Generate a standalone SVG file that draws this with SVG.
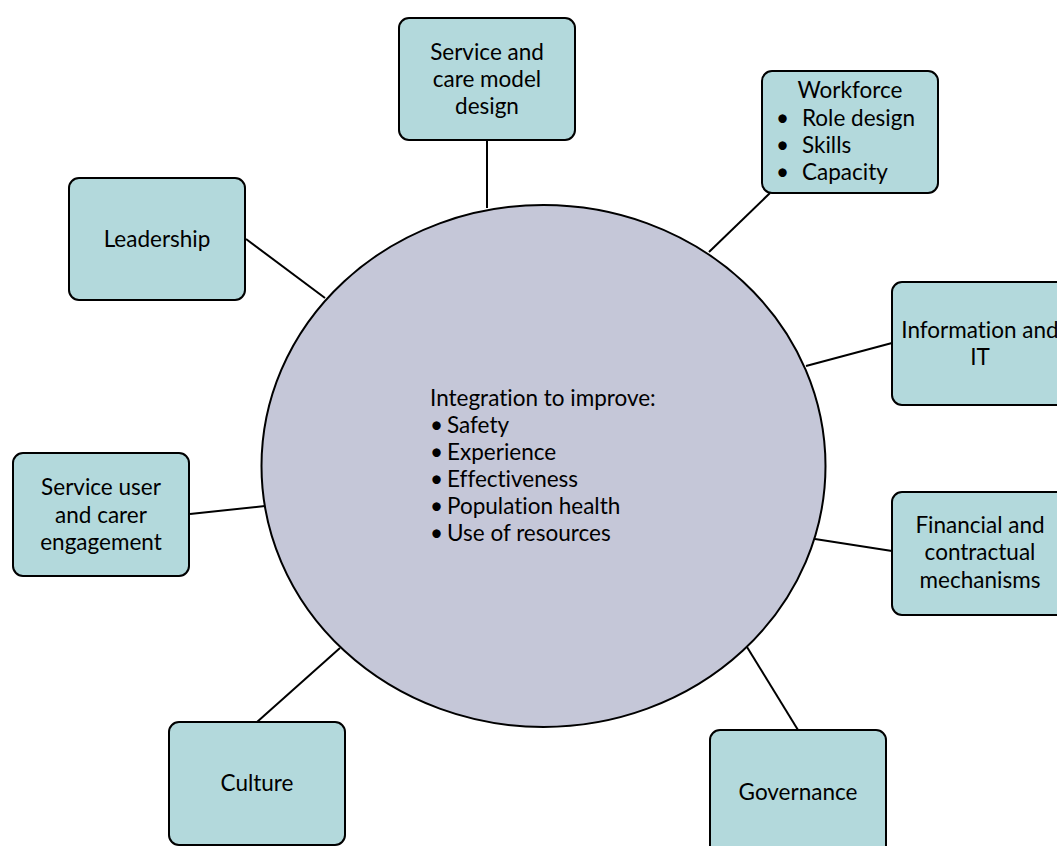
<svg xmlns="http://www.w3.org/2000/svg" width="1057" height="846" viewBox="0 0 1057 846">
<style>
.box{fill:#b3d9dc;stroke:#000;stroke-width:2}
.hub{fill:#c5c7d8;stroke:#000;stroke-width:2}
.t{font-family:Lato,"Liberation Sans",sans-serif;font-size:22.5px;fill:#000;font-variant-ligatures:none}
.c{text-anchor:middle}
.conn line{stroke:#000;stroke-width:2}
</style>
<rect width="1057" height="846" fill="#fff"/>
<g id="connectors" class="conn">
<line x1="487" y1="140" x2="487" y2="208"/>
<line x1="770" y1="193" x2="709" y2="252"/>
<line x1="246" y1="239" x2="325" y2="298"/>
<line x1="892" y1="343" x2="806" y2="366"/>
<line x1="892" y1="551" x2="815" y2="539"/>
<line x1="190" y1="514" x2="265" y2="506"/>
<line x1="257" y1="722" x2="340" y2="648"/>
<line x1="798" y1="730" x2="747" y2="647"/>
</g>
<g id="hub">
<ellipse class="hub" cx="543.5" cy="466" rx="282" ry="261"/>
<text class="t" x="430" y="406">Integration to improve:</text>
<text class="t" x="430" y="433">•</text><text class="t" x="447" y="433">Safety</text>
<text class="t" x="430" y="460">•</text><text class="t" x="447" y="460">Experience</text>
<text class="t" x="430" y="487">•</text><text class="t" x="447" y="487">Effectiveness</text>
<text class="t" x="430" y="514">•</text><text class="t" x="447" y="514">Population health</text>
<text class="t" x="430" y="541">•</text><text class="t" x="447" y="541">Use of resources</text>
</g>
<g id="service-design">
<rect class="box" x="399" y="18" width="176" height="122" rx="10"/>
<text class="t c" x="487" y="60">Service and</text>
<text class="t c" x="487" y="87">care model</text>
<text class="t c" x="487" y="114">design</text>
</g>
<g id="workforce">
<rect class="box" x="762" y="71" width="176" height="122" rx="10"/>
<text class="t c" x="850" y="98">Workforce</text>
<text class="t" x="776" y="126">•</text><text class="t" x="802" y="126">Role design</text>
<text class="t" x="776" y="153">•</text><text class="t" x="802" y="153">Skills</text>
<text class="t" x="776" y="180">•</text><text class="t" x="802" y="180">Capacity</text>
</g>
<g id="leadership">
<rect class="box" x="69" y="178" width="176" height="122" rx="10"/>
<text class="t c" x="157" y="247">Leadership</text>
</g>
<g id="information-it">
<rect class="box" x="892" y="282" width="176" height="123" rx="10"/>
<text class="t c" x="980" y="338">Information and</text>
<text class="t c" x="980" y="365">IT</text>
</g>
<g id="financial">
<rect class="box" x="892" y="492" width="176" height="123" rx="10"/>
<text class="t c" x="980" y="533">Financial and</text>
<text class="t c" x="980" y="560">contractual</text>
<text class="t c" x="980" y="588">mechanisms</text>
</g>
<g id="service-user">
<rect class="box" x="13" y="453" width="176" height="123" rx="10"/>
<text class="t c" x="101" y="495">Service user</text>
<text class="t c" x="101" y="523">and carer</text>
<text class="t c" x="101" y="550">engagement</text>
</g>
<g id="culture">
<rect class="box" x="169" y="722" width="176" height="123" rx="10"/>
<text class="t c" x="257" y="791">Culture</text>
</g>
<g id="governance">
<rect class="box" x="710" y="730" width="176" height="130" rx="10"/>
<text class="t c" x="798" y="800">Governance</text>
</g>
</svg>
